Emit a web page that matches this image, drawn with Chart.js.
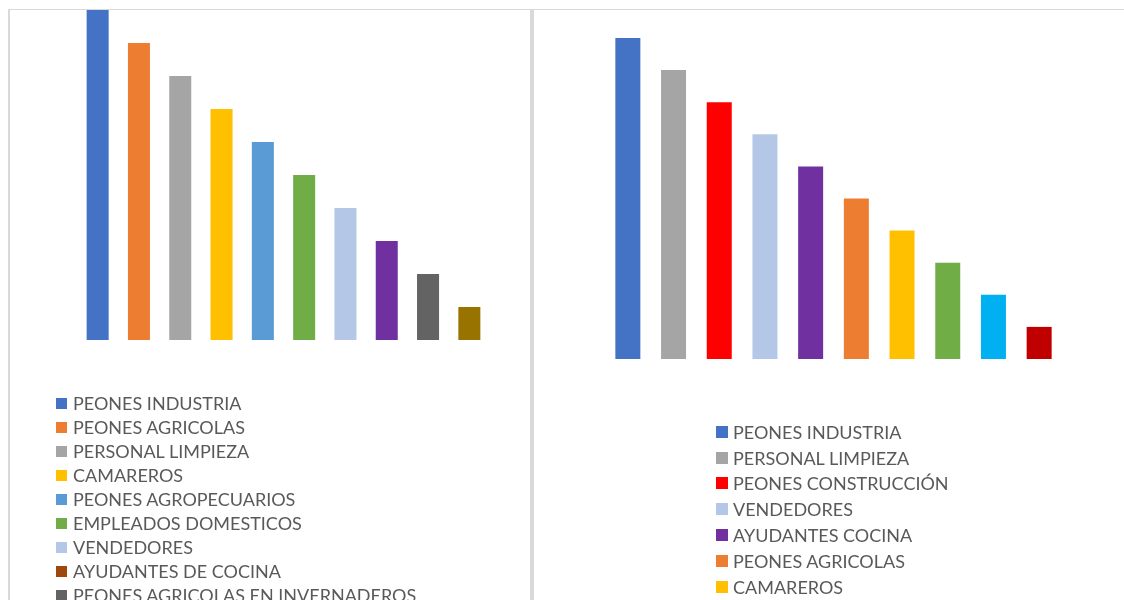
<!DOCTYPE html>
<html>
<head>
<meta charset="utf-8">
<title>Ocupaciones</title>
<script src="https://cdn.jsdelivr.net/npm/chart.js@4.4.1/dist/chart.umd.min.js"></script>
<style>
  html, body { margin: 0; padding: 0; background: #fff; overflow: hidden; }
  body { width: 1124px; height: 600px; position: relative; font-family: Lato, "Open Sans", sans-serif; }
  .panel { position: absolute; top: 9px; height: 650px; border-top: 1px solid #d9d9d9; box-sizing: border-box; }
  #leftPanel { left: 8px; width: 524px; border-left: 2px solid #d9d9d9; border-right: 2px solid #d9d9d9; }
  #rightPanel { left: 532px; width: 620px; border-left: 2px solid #d9d9d9; }
  .panel canvas { position: absolute; left: 0; top: 0; }
  .legend { position: absolute; color: #595959; white-space: nowrap; }
  .legend .item { display: flex; align-items: center; }
  .legend .key { display: inline-block; flex: none; }
  #leftLegend { left: 46px; top: 381px; font-size: 18px; }
  #leftLegend .item { height: 24px; }
  #leftLegend .key { width: 11px; height: 11px; margin-right: 6px; }
  #rightLegend { left: 182px; top: 409px; font-size: 18px; }
  #rightLegend .item { height: 25.8px; }
  #rightLegend .key { width: 12px; height: 12px; margin-right: 5px; }
</style>
</head>
<body>
<div class="panel" id="leftPanel">
  <canvas id="leftChart" width="520" height="590"></canvas>
  <div class="legend" id="leftLegend"></div>
</div>
<div class="panel" id="rightPanel">
  <canvas id="rightChart" width="590" height="590"></canvas>
  <div class="legend" id="rightLegend"></div>
</div>
<script>
// Ranking of occupations (10 = first place)
const leftLabels = [
    "PEONES INDUSTRIA",
    "PEONES AGRICOLAS",
    "PERSONAL LIMPIEZA",
    "CAMAREROS",
    "PEONES AGROPECUARIOS",
    "EMPLEADOS DOMESTICOS",
    "VENDEDORES",
    "AYUDANTES DE COCINA",
    "PEONES AGRICOLAS EN INVERNADEROS",
    "PEONES CONSTRUCCIÓN"
];
const leftValues = [10, 9, 8, 7, 6, 5, 4, 3, 2, 1];

const rightLabels = [
    "PEONES INDUSTRIA",
    "PERSONAL LIMPIEZA",
    "PEONES CONSTRUCCIÓN",
    "VENDEDORES",
    "AYUDANTES COCINA",
    "PEONES AGRICOLAS",
    "CAMAREROS",
    "EMPLEADOS DOMESTICOS",
    "PEONES AGROPECUARIOS",
    "PEONES AGRICOLAS EN INVERNADEROS"
];
const rightValues = [10, 9, 8, 7, 6, 5, 4, 3, 2, 1];

// Colours per bar, and per legend key
const leftBarColors = ["#4472C4", "#ED7D31", "#A5A5A5", "#FFC000", "#5B9BD5", "#70AD47", "#B4C7E7", "#7030A0", "#636363", "#997300"];
const leftKeyColors = ["#4472C4", "#ED7D31", "#A5A5A5", "#FFC000", "#5B9BD5", "#70AD47", "#B4C7E7", "#9E480E", "#636363", "#997300"];
const rightBarColors = ["#4472C4", "#A5A5A5", "#FF0000", "#B4C7E7", "#7030A0", "#ED7D31", "#FFC000", "#70AD47", "#00B0F0", "#C00000"];

// Shared bar chart config, axes hidden
function barConfig(labels, values, colors, barPct, padding) {
    return {
        type: 'bar',
        data: {
            labels: labels,
            datasets: [{
                data: values,
                backgroundColor: colors,
                borderWidth: 0,
                barPercentage: barPct,
                categoryPercentage: 1
            }]
        },
        options: {
            responsive: false,
            animation: false,
            layout: { padding: padding },
            plugins: {
                legend: { display: false },
                tooltip: { enabled: false }
            },
            scales: {
                x: { display: false },
                y: { display: false, min: 0, max: 10 }
            }
        }
    };
}

// Vertical legend list under each chart
function buildLegend(el, labels, colors) {
    labels.forEach(function(label, i) {
        const item = document.createElement('div');
        item.className = 'item';
        const key = document.createElement('span');
        key.className = 'key';
        key.style.background = colors[i];
        const text = document.createElement('span');
        text.textContent = label;
        item.appendChild(key);
        item.appendChild(text);
        el.appendChild(item);
    });
}

const leftChart = new Chart(
    document.getElementById('leftChart'),
    barConfig(leftLabels, leftValues, leftBarColors, 0.533, { left: 67, right: 40, top: 0, bottom: 260 })
);
buildLegend(document.getElementById('leftLegend'), leftLabels, leftKeyColors);

const rightChart = new Chart(
    document.getElementById('rightChart'),
    barConfig(rightLabels, rightValues, rightBarColors, 0.547, { left: 71, right: 62, top: 28, bottom: 241 })
);
buildLegend(document.getElementById('rightLegend'), rightLabels, rightBarColors);
</script>
</body>
</html>
